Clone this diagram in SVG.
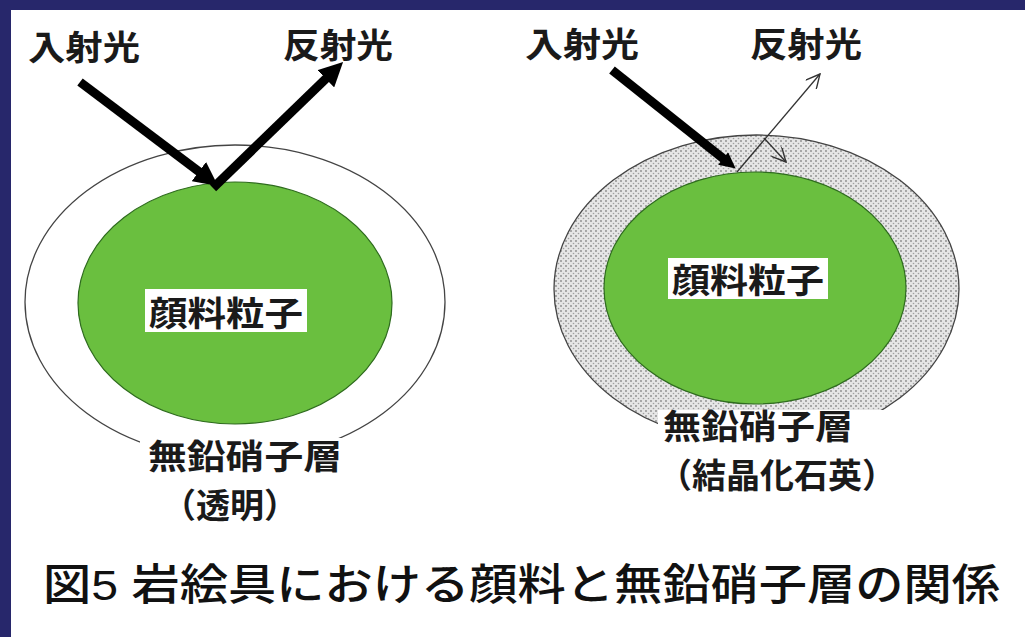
<svg xmlns="http://www.w3.org/2000/svg" width="1025" height="637" viewBox="0 0 1025 637">
<style>
.lbl{font-family:"Liberation Sans","Noto Sans CJK JP",sans-serif;font-weight:700;fill:#1a1a1a;font-size:34px}
.cap{font-family:"Liberation Sans","Noto Sans CJK JP",sans-serif;font-weight:500;fill:#111;font-size:43px}
.outer{stroke:#444;stroke-width:1.3}
.green{fill:#6abf3f;stroke:#2e6b1e;stroke-width:1.2}
.thick{stroke:#000;stroke-width:9;fill:none}
.thin{stroke:#333;stroke-width:1.3;fill:none}
</style>
<defs>
<pattern id="stip" width="5" height="5" patternUnits="userSpaceOnUse">
<rect width="5" height="5" fill="#e6e6e6"/>
<circle cx="1" cy="1" r="0.9" fill="#8a8a8a"/>
<circle cx="3.5" cy="3.5" r="0.8" fill="#a0a0a0"/>
</pattern>
<marker id="hb" viewBox="0 0 10 10" refX="3" refY="5" markerWidth="24" markerHeight="24" markerUnits="userSpaceOnUse" orient="auto">
<path d="M0,0 L10,5 L0,10 z" fill="#000"/>
</marker>
<marker id="hn" viewBox="0 0 10 10" refX="3" refY="5" markerWidth="22" markerHeight="16" markerUnits="userSpaceOnUse" orient="auto">
<path d="M0,0 L10,5 L0,10 z" fill="#000"/>
</marker>
<marker id="ho" viewBox="0 0 10 10" refX="10" refY="5" markerWidth="16" markerHeight="14" markerUnits="userSpaceOnUse" orient="auto">
<path d="M0,0 L10,5 L0,10" fill="none" stroke="#333" stroke-width="1"/>
</marker>
</defs>
<rect width="1025" height="637" fill="#27276b"/>
<rect x="11" y="10" width="1014" height="627" fill="#ffffff"/>

<g id="left-particle">
<ellipse class="outer" cx="235" cy="302" rx="210" ry="157" fill="#fff"/>
<ellipse class="green" cx="235" cy="303" rx="157" ry="121"/>
<rect x="145" y="289" width="162" height="43" fill="#fff"/>
<text class="lbl" x="149" y="326" font-size="38" textLength="154" lengthAdjust="spacingAndGlyphs">顔料粒子</text>
</g>
<g id="left-layer-label">
<rect x="140" y="438" width="208" height="90" fill="#fff"/>
<text class="lbl" x="148" y="469" textLength="194" lengthAdjust="spacingAndGlyphs">無鉛硝子層</text>
<text class="lbl" x="230" y="518" text-anchor="middle">（透明）</text>
</g>

<g id="right-particle">
<ellipse class="outer" cx="756.5" cy="289" rx="202.5" ry="154" fill="url(#stip)"/>
<ellipse class="green" cx="755" cy="288" rx="151" ry="116"/>
<rect x="668" y="258" width="160" height="41" fill="#fff"/>
<text class="lbl" x="672" y="293" font-size="36" textLength="152" lengthAdjust="spacingAndGlyphs">顔料粒子</text>
</g>
<g id="right-layer-label">
<rect x="658" y="410" width="232" height="89" fill="#fff"/>
<text class="lbl" x="663" y="439" textLength="190" lengthAdjust="spacingAndGlyphs">無鉛硝子層</text>
<text class="lbl" x="777" y="488" text-anchor="middle">（結晶化石英）</text>
</g>

<g id="light-labels">
<text class="lbl" x="28" y="60" textLength="112" lengthAdjust="spacingAndGlyphs">入射光</text>
<text class="lbl" x="283" y="58" textLength="110" lengthAdjust="spacingAndGlyphs">反射光</text>
<text class="lbl" x="525" y="57" textLength="114" lengthAdjust="spacingAndGlyphs">入射光</text>
<text class="lbl" x="750" y="57" textLength="112" lengthAdjust="spacingAndGlyphs">反射光</text>
</g>

<g id="connectors">
<line class="thick" x1="80" y1="82" x2="204.6" y2="175.9" marker-end="url(#hb)"/>
<line class="thick" x1="213" y1="188" x2="331" y2="73.8" marker-end="url(#hb)"/>
<line class="thick" x1="612" y1="70" x2="726.9" y2="161.5" marker-end="url(#hn)"/>
<line class="thin" x1="737" y1="172" x2="820" y2="74" marker-end="url(#ho)"/>
<line class="thin" x1="764" y1="138" x2="786" y2="162" marker-end="url(#ho)"/>
</g>

<g id="caption">
<text class="cap" x="43" y="600" textLength="957" lengthAdjust="spacingAndGlyphs">図5 岩絵具における顔料と無鉛硝子層の関係</text>
</g>
</svg>
